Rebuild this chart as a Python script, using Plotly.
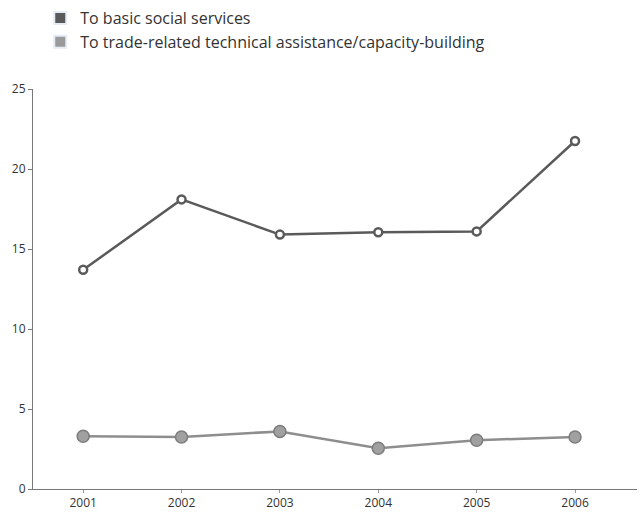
import plotly.graph_objects as go

years = [2001, 2002, 2003, 2004, 2005, 2006]
basic_social = [13.7, 18.1, 15.9, 16.05, 16.1, 21.75]
trade_related = [3.3, 3.25, 3.6, 2.55, 3.05, 3.25]
series_names = ["To basic social services",
                "To trade-related technical assistance/capacity-building"]
y_ticks = [0, 5, 10, 15, 20, 25]

dark = "#5a5a5a"
light = "#8e8e8e"

fig = go.Figure()
fig.add_trace(go.Scatter(
    x=years, y=basic_social, mode="lines+markers", showlegend=False,
    line=dict(color=dark, width=2.5),
    marker=dict(size=8, color="white", line=dict(color=dark, width=2.5)),
))
fig.add_trace(go.Scatter(
    x=years, y=trade_related, mode="lines+markers", showlegend=False,
    line=dict(color=light, width=2.5),
    marker=dict(size=12, color="#a0a0a0", line=dict(color="#7d7d7d", width=1.5)),
))
# legend swatches
fig.add_trace(go.Bar(x=[None], y=[None], name=series_names[0], marker_color=dark))
fig.add_trace(go.Bar(x=[None], y=[None], name=series_names[1], marker_color="#9a9a9a"))

fig.update_layout(
    width=643, height=513,
    margin=dict(l=33, r=6, t=89, b=24, autoexpand=False),
    paper_bgcolor="white", plot_bgcolor="white",
    font=dict(family="Open Sans, Noto Sans, sans-serif", color="#333333"),
    showlegend=True,
    legend=dict(x=0.012, y=0.998, xref="paper", yref="container", xanchor="left",
                yanchor="top", font=dict(size=16, color="#333333"),
                itemsizing="constant", bgcolor="rgba(0,0,0,0)"),
    xaxis=dict(range=[2000.49, 2006.63], tickvals=years, ticktext=[str(y) for y in years],
               showgrid=False, zeroline=False, showline=True, linecolor="#777777",
               linewidth=1, ticks="outside", ticklen=3, tickcolor="#999999",
               automargin=False, tickfont=dict(size=12, color="#333333")),
    yaxis=dict(range=[0, 25], tickvals=y_ticks, showgrid=False, zeroline=False,
               showline=True, linecolor="#777777", linewidth=1, ticks="outside",
               ticklen=4, tickcolor="#777777", automargin=False,
               tickfont=dict(size=12, color="#333333")),
)

fig.write_html("out.html", config={"displayModeBar": False},
               post_script="document.body.style.margin='0';")
